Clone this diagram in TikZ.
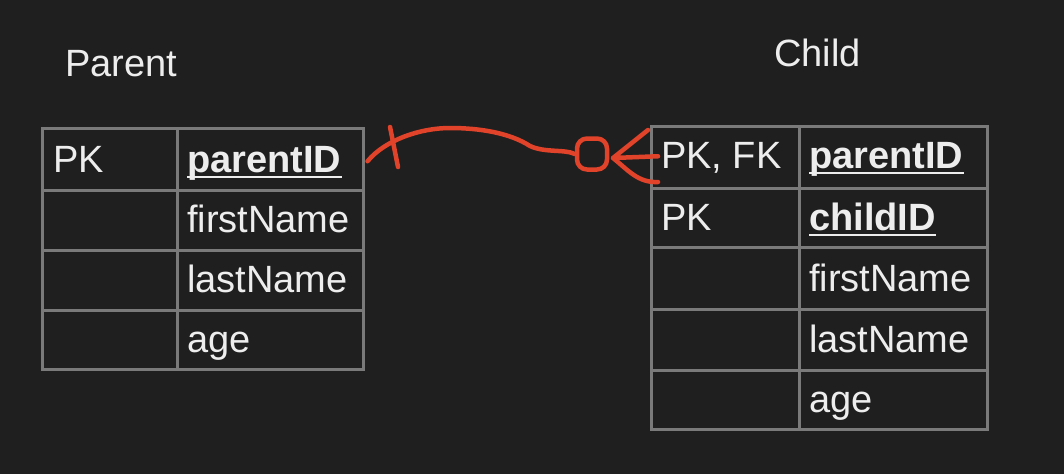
\documentclass[tikz,border=0pt]{standalone}
\usepackage{fontspec}
\setmainfont{Liberation Sans}
\usetikzlibrary{calc}
\definecolor{bg}{HTML}{1F1F1F}
\definecolor{grid}{HTML}{7A7A7A}
\definecolor{txt}{HTML}{EDEDED}
\definecolor{pen}{HTML}{E0432A}
\begin{document}
\begin{tikzpicture}[x=1pt,y=-1pt,
  cell/.style={draw=grid, line width=2.5pt, inner sep=0pt, anchor=north west},
  lbl/.style={text=txt, inner sep=0pt, anchor=base west, font=\fontsize{38}{40}\selectfont},
  key/.style={lbl, font=\fontsize{38}{40}\selectfont\bfseries},
  uline/.style={draw=txt, line width=2pt},
  ink/.style={draw=pen, line width=4.5pt, line cap=round, line join=round}]
\fill[bg] (0,0) rectangle (1064,474);
\useasboundingbox (0,0) rectangle (1064,474);

% titles
\node[lbl] (tparent) at (65,76) {Parent};
\node[lbl] (tchild) at (774,66) {Child};

% Parent table
\node[cell, minimum width=135pt, minimum height=62pt] (pa1) at (41,127) {};
\node[cell, minimum width=186pt, minimum height=62pt] (pb1) at (176,127) {};
\node[cell, minimum width=135pt, minimum height=60pt] (pa2) at (41,189) {};
\node[cell, minimum width=186pt, minimum height=60pt] (pb2) at (176,189) {};
\node[cell, minimum width=135pt, minimum height=60pt] (pa3) at (41,249) {};
\node[cell, minimum width=186pt, minimum height=60pt] (pb3) at (176,249) {};
\node[cell, minimum width=135pt, minimum height=59pt] (pa4) at (41,309) {};
\node[cell, minimum width=186pt, minimum height=59pt] (pb4) at (176,309) {};

\node[lbl] (ppk) at (53,172) {PK};
\node[key] (pid) at (187,172) {parentID};
\draw[uline] ($(pid.base west)+(0,5)$) -- ($(pid.base east)+(0,5)$);
\node[lbl] (pfn) at (187,232) {firstName};
\node[lbl] (pln) at (187,292) {lastName};
\node[lbl] (pag) at (187,352) {age};

% Child table
\node[cell, minimum width=148pt, minimum height=62pt] (ca1) at (650,125) {};
\node[cell, minimum width=188pt, minimum height=62pt] (cb1) at (798,125) {};
\node[cell, minimum width=148pt, minimum height=59pt] (ca2) at (650,187) {};
\node[cell, minimum width=188pt, minimum height=59pt] (cb2) at (798,187) {};
\node[cell, minimum width=148pt, minimum height=62pt] (ca3) at (650,246) {};
\node[cell, minimum width=188pt, minimum height=62pt] (cb3) at (798,246) {};
\node[cell, minimum width=148pt, minimum height=61pt] (ca4) at (650,308) {};
\node[cell, minimum width=188pt, minimum height=61pt] (cb4) at (798,308) {};
\node[cell, minimum width=148pt, minimum height=59pt] (ca5) at (650,369) {};
\node[cell, minimum width=188pt, minimum height=59pt] (cb5) at (798,369) {};

\node[lbl] (cpk1) at (661,168) {PK, FK};
\node[key] (cpid) at (809,168) {parentID};
\draw[uline] ($(cpid.base west)+(0,5)$) -- ($(cpid.base east)+(0,5)$);
\node[lbl] (cpk2) at (661,230) {PK};
\node[key] (ccid) at (809,230) {childID};
\draw[uline] ($(ccid.base west)+(0,5)$) -- ($(ccid.base east)+(0,5)$);
\node[lbl] (cfn) at (809,291) {firstName};
\node[lbl] (cln) at (809,352) {lastName};
\node[lbl] (cag) at (809,412) {age};

% relationship (hand drawn)
\coordinate (rstart) at ($(pb1.east)+(3,2)$);
\node[ink, rounded corners=10pt, minimum width=30pt, minimum height=31pt, inner sep=0pt] (ring) at (592,154) {};
\coordinate (crow) at (613,158);
\coordinate (ftop) at (648,130);
\coordinate (fmid) at ($(ca1.west)+(8,-1)$);
\coordinate (fbot) at (658,182);
\draw[ink] (rstart) .. controls (385,140) and (420,128) .. (450,128)
  .. controls (480,128) and (510,133) .. (530,146)
  .. controls (545,153) and (565,149) .. (ring.west);
\draw[ink] (390,127) -- (398,167);
\draw[ink] (ftop) -- (crow) -- (fmid);
\draw[ink] (crow) .. controls (628,170) and (638,183) .. (fbot);
\end{tikzpicture}
\end{document}
